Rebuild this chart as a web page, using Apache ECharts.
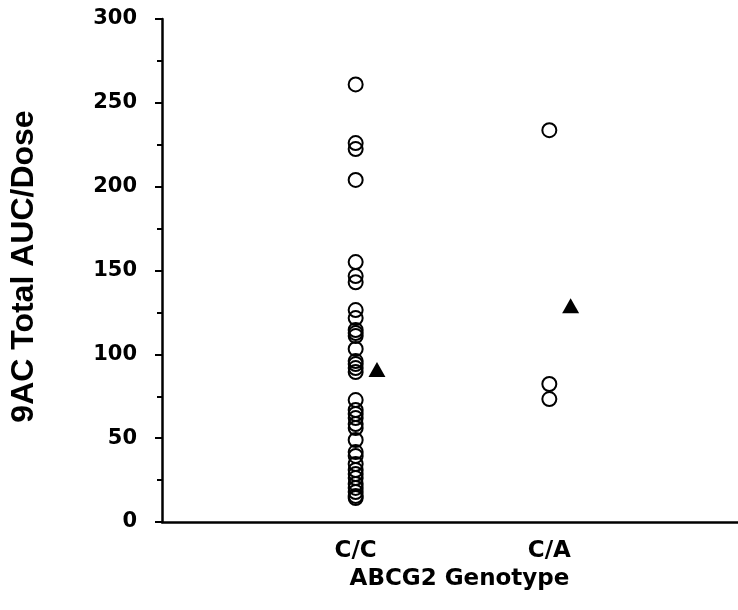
<!DOCTYPE html>
<html>
<head>
<meta charset="utf-8">
<script src="https://cdn.jsdelivr.net/npm/echarts@6/dist/echarts.min.js"></script>
<style>
  html, body { margin: 0; padding: 0; background: #fff; }
  #chart { width: 738px; height: 610px; }
</style>
</head>
<body>
<div id="chart"></div>
<script>
// ---- data ----
const categories = ['C/C', 'C/A'];
const ccValues = [261, 226, 222.4, 204, 155, 146.7, 143, 126.4, 121.6, 114.5, 112.7, 110.9,
  103.2, 96, 94.2, 91.8, 89.4, 72.7, 66.8, 64.4, 62, 58.4, 56, 48.9, 41.7, 39.4,
  34.6, 31, 28.6, 26.2, 22.7, 20.3, 17.9, 15.5, 14.3];
const caValues = [233.7, 82.3, 73.3];
const meanValues = [91, 129];
const yTickValues = [0, 50, 100, 150, 200, 250, 300];

// ---- chart ----
const meanOffset = 0.11;
const catPos = categories.map((c, i) => i + 1);
const groups = [ccValues, caValues];

const hollow = {
  color: 'rgba(0,0,0,0)',
  borderColor: '#000',
  borderWidth: 2,
  opacity: 1
};

const series = groups.map((vals, gi) => ({
  name: categories[gi],
  type: 'scatter',
  symbol: 'circle',
  symbolSize: 14,
  itemStyle: hollow,
  data: vals.map(v => [catPos[gi], v]),
  silent: true
}));
series.push({
  name: 'mean',
  type: 'scatter',
  symbol: 'triangle',
  symbolSize: [17, 15],
  itemStyle: { color: '#000', opacity: 1 },
  data: meanValues.map((v, i) => [catPos[i] + meanOffset, v]),
  silent: true
});

const chart = echarts.init(document.getElementById('chart'));
chart.setOption({
  animation: false,
  backgroundColor: '#fff',
  grid: { left: 162, top: 19, right: -5, bottom: 88, containLabel: false, outerBoundsMode: 'none' },
  xAxis: {
    type: 'value',
    min: 0,
    max: categories.length + 1,
    interval: 1,
    splitLine: { show: false },
    axisTick: { show: false },
    axisLine: { onZero: false, lineStyle: { color: '#000', width: 2.5 } },
    axisLabel: {
      margin: 18,
      color: '#000',
      fontFamily: 'DejaVu Sans',
      fontWeight: 'bold',
      fontSize: 23,
      formatter: v => categories[v - 1] || ''
    },
    name: 'ABCG2 Genotype',
    nameLocation: 'middle',
    nameGap: 44,
    nameTextStyle: {
      color: '#000',
      fontFamily: 'DejaVu Sans',
      fontWeight: 'bold',
      fontSize: 23,
      padding: [0, 0, 0, 14]
    }
  },
  yAxis: {
    type: 'value',
    min: yTickValues[0],
    max: yTickValues[yTickValues.length - 1],
    interval: yTickValues[1] - yTickValues[0],
    splitLine: { show: false },
    axisLine: { show: true, lineStyle: { color: '#000', width: 2.5 } },
    axisTick: { show: true, length: 7, lineStyle: { color: '#000', width: 2 } },
    minorTick: { show: true, splitNumber: 2, length: 5, lineStyle: { color: '#000', width: 2 } },
    axisLabel: {
      margin: 25,
      color: '#000',
      fontFamily: 'DejaVu Sans',
      fontWeight: 'bold',
      fontSize: 21
    },
    name: '9AC Total AUC/Dose',
    nameLocation: 'middle',
    nameGap: 122,
    nameRotate: 90,
    nameTextStyle: {
      color: '#000',
      fontFamily: 'Liberation Sans',
      fontWeight: 'bold',
      fontSize: 32,
      padding: [0, 0, 0, 8]
    }
  },
  series: series
});
</script>
</body>
</html>
